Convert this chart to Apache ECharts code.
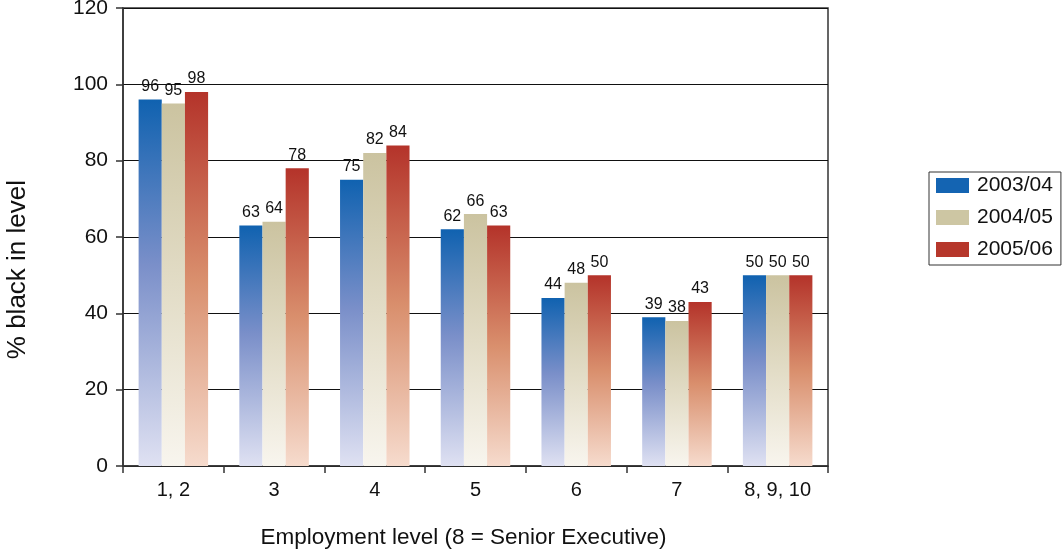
<!DOCTYPE html>
<html>
<head>
<meta charset="utf-8">
<style>
  html, body { margin: 0; padding: 0; background: #fff; }
  #chart { width: 1062px; height: 550px; }
</style>
<script src="https://cdn.jsdelivr.net/npm/echarts@6/dist/echarts.min.js"></script>
</head>
<body>
<div id="chart"></div>
<script>
// Employment levels along the x axis
const categories = ['1, 2', '3', '4', '5', '6', '7', '8, 9, 10'];
// Share of black staff in each level, per financial year (%)
const y2003_04 = [96, 63, 75, 62, 44, 39, 50];
const y2004_05 = [95, 64, 82, 66, 48, 38, 50];
const y2005_06 = [98, 78, 84, 63, 50, 43, 50];
const seriesNames = ['2003/04', '2004/05', '2005/06'];
const yTicks = [0, 20, 40, 60, 80, 100, 120];

const FONT = '"Liberation Sans", Arial, Helvetica, sans-serif';

// vertical fade from a saturated top to a pale base
function fade(stops) {
  return new echarts.graphic.LinearGradient(0, 0, 0, 1,
    stops.map(([offset, color]) => ({ offset, color })));
}

const palette = [
  { solid: '#1464b2', stops: [[0, '#1062b0'], [0.45, '#7a8fc9'], [1, '#dfe1f2']] },
  { solid: '#cdc6a3', stops: [[0, '#cbc3a0'], [0.5, '#e2dcc6'], [1, '#f8f5ee']] },
  { solid: '#b6372b', stops: [[0, '#b4332a'], [0.5, '#d98f6d'], [1, '#f6dbcd']] }
];

const seriesData = [y2003_04, y2004_05, y2005_06];

const chart = echarts.init(document.getElementById('chart'), null, { renderer: 'canvas' });

chart.setOption({
  animation: false,
  backgroundColor: '#fff',
  textStyle: { fontFamily: FONT },
  grid: {
    left: 123, right: 234, top: 8, bottom: 84,
    outerBoundsMode: 'none',
    containLabel: false,
    show: true, borderColor: '#333', borderWidth: 1.5, backgroundColor: 'transparent'
  },
  legend: {
    orient: 'vertical',
    left: 929,
    top: 172,
    padding: [3, 8, 5, 7],
    itemGap: 11,
    itemWidth: 33,
    itemHeight: 15,
    borderColor: '#333',
    borderWidth: 1,
    icon: 'rect',
    textStyle: { fontSize: 21, lineHeight: 21, color: '#111', fontFamily: FONT, padding: [0, 0, 0, 3] },
    data: seriesNames.map((n, i) => ({ name: n, itemStyle: { color: palette[i].solid } }))
  },
  graphic: [{
    type: 'text',
    left: 5,
    top: 180,
    rotation: Math.PI / 2,
    style: { text: '% black in level', fontSize: 26, fill: '#111', fontFamily: FONT }
  }],
  xAxis: {
    type: 'category',
    data: categories,
    name: 'Employment level (8 = Senior Executive)',
    nameLocation: 'middle',
    nameGap: 60,
    nameTextStyle: { fontSize: 22.5, color: '#111', fontFamily: FONT, padding: [0, 24, 0, 0] },
    axisLine: { lineStyle: { color: '#333', width: 1.5 } },
    axisTick: { show: true, alignWithLabel: false, length: 7, lineStyle: { color: '#333', width: 1.5 } },
    axisLabel: { fontSize: 20, color: '#111', margin: 14, fontFamily: FONT },
    splitLine: { show: false }
  },
  yAxis: {
    type: 'value',
    min: 0,
    max: 120,
    interval: 20,
    axisLine: { show: true, lineStyle: { color: '#333', width: 1.5 } },
    axisTick: { show: true, inside: false, length: 7, lineStyle: { color: '#333', width: 1.5 } },
    axisLabel: {
      fontSize: 21, color: '#111', margin: 15, fontFamily: FONT,
      formatter: v => (yTicks.includes(v) ? String(v) : '')
    },
    splitLine: { show: true, lineStyle: { color: '#111', width: 1.2 } }
  },
  series: seriesNames.map((name, i) => ({
    name,
    type: 'bar',
    data: seriesData[i],
    barGap: '0%',
    barCategoryGap: '31%',
    itemStyle: { color: fade(palette[i].stops) },
    label: {
      show: true,
      position: 'top',
      distance: 5,
      fontSize: 16,
      color: '#111',
      fontFamily: FONT
    }
  }))
});
</script>
</body>
</html>
